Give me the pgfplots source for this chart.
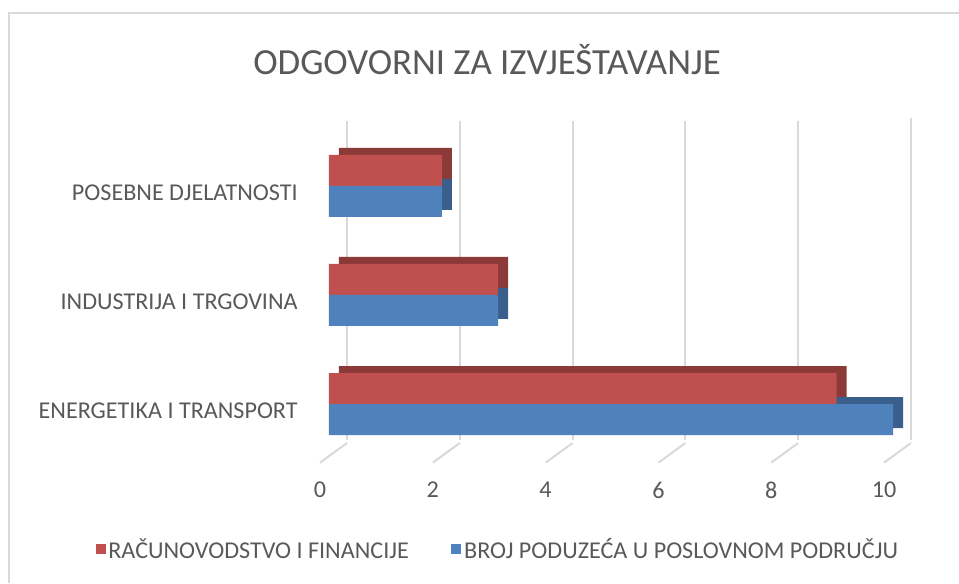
\documentclass[border=0pt]{standalone}
\usepackage{fontspec}
\setmainfont{Carlito}
\usepackage{pgfplots}
\pgfplotsset{compat=1.18}
\definecolor{txt}{HTML}{595959}
\definecolor{gridc}{HTML}{D9D9D9}
\definecolor{cred}{HTML}{C0504D}
\definecolor{cblue}{HTML}{4F81BD}
\definecolor{dred}{HTML}{8C3A38}
\definecolor{dblue}{HTML}{3A5F8C}
\begin{document}
\begin{tikzpicture}
\begin{axis}[
  at={(0pt,0pt)}, anchor=south west,
  scale only axis, width=423pt, height=239.6pt,
  xbar, bar width=23.25pt,
  xmin=0, xmax=10, ymin=-0.33, ymax=2.6,
  axis line style={draw=none}, major tick length=0pt, clip=false,
  xtick={0,2,...,10}, ytick={0,1,2},
  yticklabels={ENERGETIKA I TRANSPORT, INDUSTRIJA I TRGOVINA, POSEBNE DJELATNOSTI},
  xmajorgrids, ymajorgrids=false,
  x grid style={draw=gridc, line width=1.5pt, xshift=13.5pt, shorten >=-2.25pt},
  tick label style={font=\fontsize{18.1}{20}\selectfont, text=txt},
  /pgf/number format/assume math mode=true,
  xticklabel style={xshift=-6.75pt, yshift=-28pt},
  yticklabel style={xshift=-20pt, yshift=-5pt},
  legend style={at={(0.30,-0.342)}, anchor=center, draw=none, fill=none,
    font=\fontsize{18.1}{20}\selectfont, text=txt,
    /tikz/every even column/.append style={column sep=30pt}},
  legend columns=2,
  legend image code/.code={\fill[#1, draw=none] (0pt,-3.75pt) rectangle (7.5pt,3.75pt);},
]
\pgfplotsinvokeforeach{0,2,4,6,8,10}{
  \draw[gridc, line width=1.5pt] ([xshift=13.5pt,yshift=-2.25pt]axis cs:#1,-0.33) -- ([xshift=-6.75pt,yshift=-17pt]axis cs:#1,-0.33);
}
% depth faces
\addplot[fill=dred, draw=none, bar shift=11.625pt, forget plot, transform canvas={xshift=7.5pt,yshift=5.25pt}] coordinates {(9,0) (3,1) (2,2)};
\addplot[fill=dblue, draw=none, bar shift=-11.625pt, forget plot, transform canvas={xshift=7.5pt,yshift=5.25pt}] coordinates {(10,0) (3,1) (2,2)};
% front faces
\addplot[fill=cred, draw=none, bar shift=11.625pt] coordinates {(9,0) (3,1) (2,2)};
\addplot[fill=cblue, draw=none, bar shift=-11.625pt] coordinates {(10,0) (3,1) (2,2)};
\legend{RAČUNOVODSTVO I FINANCIJE, BROJ PODUZEĆA U POSLOVNOM PODRUČJU}
\end{axis}
\node[text=txt, font=\fontsize{27.6}{32}\selectfont] at (118.5pt,285pt) {ODGOVORNI ZA IZVJEŠTAVANJE};
\draw[gridc, line width=1.5pt] (-240pt,-107.25pt) -- (-240pt,320.25pt) -- (472.5pt,320.25pt);
\pgfresetboundingbox
\path[use as bounding box] (-246.75pt,-107.25pt) rectangle (472.5pt,330pt);
\end{tikzpicture}
\end{document}
